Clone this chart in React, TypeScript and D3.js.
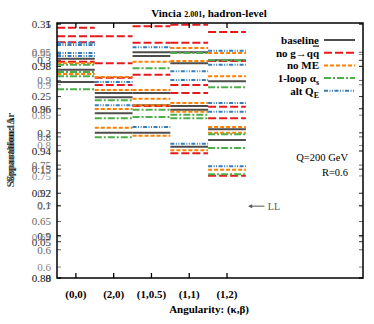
import * as d3 from 'd3'
import { useEffect, useRef } from 'react'

const W = 374
const H = 324

const categories = ['(0,0)', '(2,0)', '(1,0.5)', '(1,1)', '(1,2)']

// separation values per category (several overlaid panels)
const baselineVals = [
	[0.302, 0.287, 0.27],
	[0.255, 0.249, 0.227, 0.2],
	[0.311, 0.306, 0.255, 0.238, 0.2],
	[0.311, 0.296, 0.237, 0.232, 0.181],
	[0.3, 0.271, 0.205, 0.19],
]
const noGqqVals = [
	[0.345, 0.333, 0.325, 0.298],
	[0.333, 0.296, 0.276, 0.266],
	[0.347, 0.324, 0.28, 0.237],
	[0.349, 0.324, 0.266, 0.255, 0.172],
	[0.339, 0.299, 0.236, 0.22, 0.141],
]
const noMEVals = [
	[0.296, 0.281],
	[0.277, 0.259, 0.233, 0.207],
	[0.298, 0.259, 0.247, 0.238, 0.196],
	[0.317, 0.299, 0.241, 0.229, 0.176],
	[0.31, 0.278, 0.208, 0.2, 0.149],
]
const oneLoopVals = [
	[0.294, 0.284, 0.278, 0.26],
	[0.245, 0.22, 0.194],
	[0.289, 0.232, 0.222],
	[0.31, 0.225, 0.22],
	[0.3, 0.263, 0.198, 0.179, 0.143],
]
const altQEVals = [
	[0.324, 0.321, 0.31, 0.306],
	[0.27, 0.238],
	[0.318, 0.208],
	[0.285, 0.273, 0.185],
	[0.313, 0.294, 0.241, 0.229, 0.154],
]

const seriesNames = ['baseline', 'no g→qq', 'no ME', '1-loop αs', 'alt QE']
const seriesColors = ['#4d4d4d', '#e41a1c', '#ff7f00', '#4daf4a', '#377eb8']
const seriesDash = ['none', '8,3', '4,2', '7,2,2,2', '4,1.5,1,1.5,1,1.5']
const seriesData = [baselineVals, noGqqVals, noMEVals, oneLoopVals, altQEVals]

// overlaid y axes (ticks only)
const axisA = [0.88, 0.9, 0.92, 0.94, 0.96, 0.98, 1]
const axisB = [0, 0.05, 0.1, 0.15, 0.2, 0.25, 0.3, 0.35]
const axisC = [0.6, 0.65, 0.7, 0.75, 0.8, 0.85, 0.9, 0.95]
const axisD = [0.6, 0.65, 0.7, 0.75, 0.8, 0.85, 0.9, 0.95]

const llLevel = 0.099

function App() {
	const svgRef = useRef(null)

	useEffect(() => {
		const svg = d3.select(svgRef.current)
		svg.selectAll('*').remove()

		const L = 57, R = 363, T = 23, B = 278
		const font = '"Liberation Serif", "DejaVu Serif", serif'

		const x = d3.scaleLinear().domain([-0.5, 7.6]).range([L, R])
		const y = d3.scaleLinear().domain([0, 0.35]).range([B, T + 1])

		const axes = [
			{ ticks: axisA, scale: d3.scaleLinear().domain([0.88, 1.0]).range([B, T + 1]), color: '#111' },
			{ ticks: axisB, scale: y, color: '#333' },
			{ ticks: axisC, scale: d3.scaleLinear().domain([0.55, 1.0]).range([B, T + 1]), color: '#666' },
			{ ticks: axisD, scale: d3.scaleLinear().domain([0.582, 1.0]).range([B, T + 1]), color: '#888' },
		]

		const fmt = v => String(+v.toFixed(2))

		// tick labels and ticks
		axes.forEach(a => {
			const g = svg.append('g')
			a.ticks.forEach(t => {
				const py = a.scale(t)
				g.append('text')
					.attr('x', 51)
					.attr('y', py)
					.attr('dy', '0.35em')
					.attr('text-anchor', 'end')
					.attr('font-family', font)
					.attr('font-size', 11)
					.attr('fill', a.color)
					.text(fmt(t))
				g.append('line')
					.attr('x1', L).attr('x2', L + 4)
					.attr('y1', py).attr('y2', py)
					.attr('stroke', a.color).attr('stroke-width', 1)
				g.append('line')
					.attr('x1', R).attr('x2', R - 4)
					.attr('y1', py).attr('y2', py)
					.attr('stroke', a.color).attr('stroke-width', 1)
			})
		})

		// segments
		seriesData.forEach((vals, si) => {
			const g = svg.append('g')
			vals.forEach((list, ci) => {
				list.forEach(v => {
					g.append('line')
						.attr('x1', x(ci - 0.5))
						.attr('x2', x(ci + 0.5))
						.attr('y1', y(v))
						.attr('y2', y(v))
						.attr('stroke', seriesColors[si])
						.attr('stroke-width', 2)
						.attr('stroke-dasharray', seriesDash[si])
				})
			})
		})

		// x ticks and labels
		categories.forEach((c, i) => {
			svg.append('line')
				.attr('x1', x(i)).attr('x2', x(i))
				.attr('y1', B).attr('y2', B - 5)
				.attr('stroke', '#000').attr('stroke-width', 1.3)
			svg.append('line')
				.attr('x1', x(i)).attr('x2', x(i))
				.attr('y1', T).attr('y2', T + 5)
				.attr('stroke', '#000').attr('stroke-width', 1.3)
			svg.append('text')
				.attr('x', x(i))
				.attr('y', 298)
				.attr('text-anchor', 'middle')
				.attr('font-family', font)
				.attr('font-weight', 'bold')
				.attr('font-size', 11)
				.text(c)
		})

		// frame
		svg.append('rect')
			.attr('x', L).attr('y', T)
			.attr('width', R - L).attr('height', B - T)
			.attr('fill', 'none')
			.attr('stroke', '#000')
			.attr('stroke-width', 1.5)

		// title
		const title = svg.append('text')
			.attr('x', 209)
			.attr('y', 17)
			.attr('text-anchor', 'middle')
			.attr('font-family', font)
			.attr('font-weight', 'bold')
			.attr('font-size', 11)
		title.append('tspan').text('Vincia ')
		title.append('tspan').attr('font-size', 8).text('2.001')
		title.append('tspan').text(', hadron-level')

		// x axis title
		svg.append('text')
			.attr('x', 209)
			.attr('y', 313)
			.attr('text-anchor', 'middle')
			.attr('font-family', font)
			.attr('font-weight', 'bold')
			.attr('font-size', 11)
			.text('Angularity: (κ,β)')

		// y axis titles (overlaid)
		const ylabels = [
			{ t: 'Separation: Δ', c: '#111' },
			{ t: 'Separation: 1−r', c: '#444' },
			{ t: 'Separation: I', c: '#777' },
		]
		ylabels.forEach(l => {
			svg.append('text')
				.attr('transform', 'translate(14,150) rotate(-90)')
				.attr('text-anchor', 'middle')
				.attr('font-family', font)
				.attr('font-weight', 'bold')
				.attr('font-size', 11)
				.attr('fill', l.c)
				.text(l.t)
		})

		// legend
		seriesNames.forEach((n, i) => {
			const ly = 40 + i * 12.7
			const t = svg.append('text')
				.attr('x', 319)
				.attr('y', ly)
				.attr('dy', '0.35em')
				.attr('text-anchor', 'end')
				.attr('font-family', font)
				.attr('font-weight', 'bold')
				.attr('font-size', 11)
			if (n === '1-loop αs') {
				t.append('tspan').text('1-loop α')
				t.append('tspan').attr('font-size', 8).attr('dy', 3).text('s')
			} else if (n === 'alt QE') {
				t.append('tspan').text('alt Q')
				t.append('tspan').attr('font-size', 8).attr('dy', 3).text('E')
			} else if (n === 'no g→qq') {
				t.append('tspan').text('no g→q')
				t.append('tspan').attr('text-decoration', 'overline').text('q')
			} else {
				t.text(n)
			}
			svg.append('line')
				.attr('x1', 324).attr('x2', 355)
				.attr('y1', ly).attr('y2', ly)
				.attr('stroke', seriesColors[i])
				.attr('stroke-width', 2)
				.attr('stroke-dasharray', seriesDash[i])
		})

		// annotations
		svg.append('text')
			.attr('x', 348).attr('y', 157)
			.attr('dy', '0.35em')
			.attr('text-anchor', 'end')
			.attr('font-family', font)
			.attr('font-size', 10.5)
			.text('Q=200 GeV')
		svg.append('text')
			.attr('x', 348).attr('y', 172)
			.attr('dy', '0.35em')
			.attr('text-anchor', 'end')
			.attr('font-family', font)
			.attr('font-size', 10.5)
			.text('R=0.6')

		svg.append('line')
			.attr('x1', x(4.99)).attr('x2', x(4.6))
			.attr('y1', y(llLevel)).attr('y2', y(llLevel))
			.attr('stroke', '#555').attr('stroke-width', 1)
		svg.append('path')
			.attr('d', `M${x(4.56)},${y(llLevel)} l4,-2 l0,4 z`)
			.attr('fill', '#555')
		svg.append('text')
			.attr('x', x(5.08)).attr('y', y(llLevel))
			.attr('dy', '0.35em')
			.attr('font-family', font)
			.attr('font-size', 10)
			.attr('fill', '#555')
			.text('LL')
	}, [])

	return (
		<svg
			ref={svgRef}
			width={W}
			height={H}
			style={{ position: 'absolute', left: 0, top: 0, background: '#fff' }}
		/>
	)
}

export default App
